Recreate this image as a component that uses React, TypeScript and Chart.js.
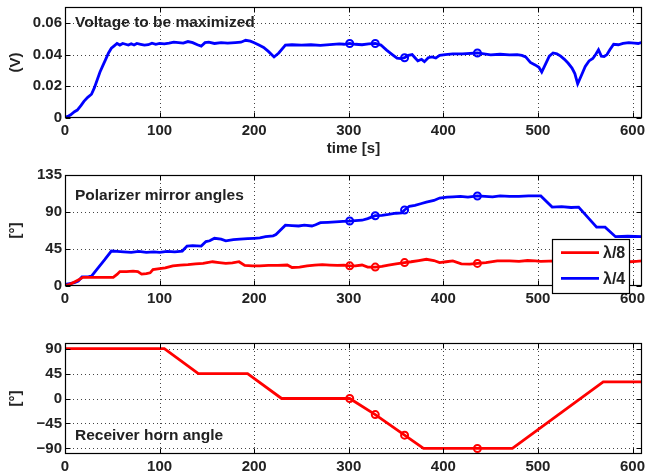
import React, { useEffect, useRef } from "react";
import { Chart, registerables } from "chart.js";
Chart.register(...registerables);

// ---------- DATA ----------
const xTickValues = [0, 100, 200, 300, 400, 500, 600];
const markerTimes = [301, 328, 359, 436];

const voltTime = [0,3,6,10,13,17,20,24,28,31,34,37,40,43,46,49,52,55,58,61,64,67,70,73,76,80,84,88,92,96,100,105,110,115,120,125,130,135,140,144,148,152,158,165,172,180,186,191,196,200,205,210,215,221,226,233,240,250,260,270,280,290,295,301,307,314,321,328,334,340,346,351,355,359,363,367,370,373,377,380,384,388,392,396,402,410,420,436,450,460,470,478,483,487,492,497,501,504,508,512,516,520,524,528,532,536,539,542,546,550,554,558,561,564,567,570,573,576,580,585,590,596,602,606,610];
const voltValue = [0.0005,0.001,0.002,0.004,0.005,0.008,0.0105,0.013,0.015,0.019,0.024,0.029,0.033,0.037,0.041,0.044,0.0455,0.047,0.046,0.047,0.0465,0.046,0.0468,0.046,0.047,0.0465,0.046,0.0462,0.0472,0.0465,0.047,0.0468,0.0472,0.0478,0.0475,0.0472,0.0482,0.0475,0.0462,0.0453,0.0475,0.0478,0.047,0.0475,0.0472,0.0475,0.0478,0.049,0.0485,0.0475,0.046,0.0445,0.042,0.0385,0.041,0.046,0.0462,0.046,0.0462,0.0458,0.0463,0.0468,0.0465,0.047,0.0465,0.0462,0.0468,0.047,0.046,0.0428,0.04,0.0377,0.0375,0.038,0.0395,0.04,0.038,0.036,0.037,0.0355,0.038,0.0385,0.0378,0.0395,0.04,0.0405,0.0405,0.041,0.0398,0.0402,0.0398,0.04,0.0395,0.0385,0.035,0.0335,0.032,0.029,0.034,0.039,0.041,0.0405,0.039,0.037,0.0345,0.0315,0.028,0.0215,0.027,0.0325,0.036,0.0375,0.04,0.043,0.039,0.0388,0.04,0.043,0.0465,0.0462,0.047,0.0475,0.0472,0.047,0.0478];
const voltMarkerValue = [0.047, 0.047, 0.038, 0.041];
const voltTicks = [0, 0.02, 0.04, 0.06];
const voltTickLabels = ["0", "0.02", "0.04", "0.06"];

const quarterTime = [0,5,10,14,18,25,28,35,42,49,55,62,70,78,86,94,100,108,116,124,129,135,144,149,153,158,165,170,178,185,193,200,206,212,220,223,233,240,247,253,261,265,270,278,286,294,301,307,314,320,328,335,342,350,356,359,364,370,376,382,390,396,404,410,418,426,436,444,452,460,470,480,490,503,515,525,535,543,562,571,582,595,610];
const quarterValue = [2,3,4,6,11,11.5,12,22,32,42.5,42,41.5,41,42,41,41.5,41,42,41.5,42.5,48.5,49,48.5,54,55,58,57,55,56.5,57,57.5,58,58.5,60,61,62.5,74,73.5,73,74,73,74.5,77,77.5,78,78.5,79,79.5,80,82,85.5,86,87,88.5,89,92.5,97,98,100,102,104,107,108,108.5,109,108,109.5,109,108.5,109.5,109,109,109.5,109.5,96,96.5,95.5,96,71.5,71.5,60,60.5,60];
const quarterMarkerValue = [79, 85.5, 92.5, 109.5];

const eighthTime = [0,5,10,15,19,30,40,51,55,58,65,72,77,81,86,90,93,100,106,114,122,130,138,146,156,163,170,177,184,190,198,206,215,225,235,240,248,256,264,272,280,288,295,301,307,314,320,328,335,342,350,359,366,374,382,390,396,403,410,419,428,436,445,457,470,480,489,497,503,520,540,560,580,597,604,610];
const eighthValue = [0.5,2,5,8,10.5,10.5,10.5,10.5,14,17.5,17.5,18,17.5,14.5,15,16,20,21,22,24.5,25.5,26,27,27.5,29.5,28.5,27.5,28,29.5,25,24.5,24.5,25,25,25.5,22.5,23,24.5,25.5,26,25.5,25,25.5,24.5,24.5,25.5,23,23,24,25.5,27,28.5,29.5,31,32.5,31,28.5,29.5,30.5,27,26.5,27.5,28.5,30.5,30.5,30,31,30.5,30,30.5,30,30,29.5,29.5,30,30.5];
const eighthMarkerValue = [24.5, 23, 28.5, 27.5];
const angleTicks = [0, 45, 90, 135];
const angleTickLabels = ["0", "45", "90", "135"];

const hornTime = [0,105,141,193,229,301,328,359,379,436,473,569,610];
const hornValue = [90,90,45,45,0,0,-29,-66,-90,-90,-90,30,30];
const hornMarkerValue = [0, -29, -66, -90];
const hornTicks = [-90, -45, 0, 45, 90];
const hornTickLabels = ["\u221290", "\u221245", "0", "45", "90"];

const BLUE = "#0000ff";
const RED = "#ff0000";
const FONT = "'Liberation Sans', Arial, Helvetica, sans-serif";
const TEXT = "#222222";

const pts = (t: number[], v: number[]) => t.map((x, i) => ({ x, y: v[i] }));

type Spec = {
  H: number;
  top: number;
  bottom: number;
  yMin: number;
  yMax: number;
  yTicks: number[];
  yLabels: string[];
  yTitle: string;
  xTitle?: string;
  title: string;
  titleY: number;
  legend?: { y1: number; y2: number; top: number; bottom: number };
  datasets: any[];
};

function lineDs(label: string, t: number[], v: number[], color: string) {
  return {
    label,
    data: pts(t, v),
    borderColor: color,
    backgroundColor: color,
    borderWidth: 2.8,
    pointRadius: 0,
    tension: 0,
    fill: false,
  };
}
function markDs(t: number[], v: number[], color: string) {
  return {
    label: "",
    data: pts(t, v),
    showLine: false,
    borderColor: color,
    backgroundColor: "rgba(0,0,0,0)",
    pointRadius: 3.5,
    pointBorderWidth: 2,
    pointBorderColor: color,
    pointBackgroundColor: "rgba(0,0,0,0)",
  };
}

function makeChart(canvas: HTMLCanvasElement, spec: Spec) {
  const tickFont = { family: FONT, size: 15, weight: "bold" as const };
  const plugin = {
    id: "frame",
    beforeDatasetsDraw(chart: any) {
      const { ctx, chartArea } = chart;
      const { left, right, top, bottom } = chartArea;
      const x = chart.scales.x;
      const y = chart.scales.y;
      ctx.save();
      ctx.strokeStyle = "#444";
      ctx.lineWidth = 1;
      ctx.setLineDash([1, 3]);
      xTickValues.forEach((v) => {
        const px = Math.round(x.getPixelForValue(v)) + 0.5;
        if (px - left < 2 || right - px < 2) return;
        ctx.beginPath();
        ctx.moveTo(px, top);
        ctx.lineTo(px, bottom);
        ctx.stroke();
      });
      spec.yTicks.forEach((v) => {
        const py = Math.round(y.getPixelForValue(v)) + 0.5;
        if (py - top < 2 || bottom - py < 2) return;
        ctx.beginPath();
        ctx.moveTo(left, py);
        ctx.lineTo(right, py);
        ctx.stroke();
      });
      ctx.restore();
    },
    afterDatasetsDraw(chart: any) {
      const { ctx, chartArea } = chart;
      const { left, right, top, bottom } = chartArea;
      const x = chart.scales.x;
      const y = chart.scales.y;
      ctx.save();
      ctx.strokeStyle = "#000";
      ctx.lineWidth = 1.2;
      ctx.setLineDash([]);
      const L = Math.round(left) + 0.5;
      const R = Math.round(right) - 0.5;
      const T = Math.round(top) + 0.5;
      const B = Math.round(bottom) - 0.5;
      ctx.strokeRect(L, T, R - L, B - T);
      const tl = 5;
      ctx.lineWidth = 1;
      ctx.beginPath();
      xTickValues.forEach((v) => {
        const px = Math.round(x.getPixelForValue(v)) + 0.5;
        ctx.moveTo(px, B);
        ctx.lineTo(px, B - tl);
        ctx.moveTo(px, T);
        ctx.lineTo(px, T + tl);
      });
      spec.yTicks.forEach((v) => {
        const py = Math.round(y.getPixelForValue(v)) + 0.5;
        ctx.moveTo(L, py);
        ctx.lineTo(L + tl, py);
        ctx.moveTo(R, py);
        ctx.lineTo(R - tl, py);
      });
      ctx.stroke();
      // title inside axes
      ctx.fillStyle = TEXT;
      ctx.font = `bold 15.5px ${FONT}`;
      ctx.textAlign = "left";
      ctx.textBaseline = "alphabetic";
      ctx.fillText(spec.title, 75, spec.titleY);
      // legend
      if (spec.legend) {
        const lg = spec.legend;
        ctx.fillStyle = "#fff";
        ctx.fillRect(552.5, lg.top + 0.5, 77, lg.bottom - lg.top);
        ctx.strokeStyle = "#000";
        ctx.lineWidth = 1.2;
        ctx.strokeRect(552.5, lg.top + 0.5, 77, lg.bottom - lg.top);
        ctx.lineWidth = 2.8;
        ctx.strokeStyle = RED;
        ctx.beginPath();
        ctx.moveTo(561, lg.y1);
        ctx.lineTo(599, lg.y1);
        ctx.stroke();
        ctx.strokeStyle = BLUE;
        ctx.beginPath();
        ctx.moveTo(561, lg.y2);
        ctx.lineTo(599, lg.y2);
        ctx.stroke();
        ctx.fillStyle = TEXT;
        ctx.font = `bold 16px ${FONT}`;
        ctx.textBaseline = "middle";
        ctx.fillText("\u03bb/8", 603, lg.y1 + 1);
        ctx.fillText("\u03bb/4", 603, lg.y2 + 1);
      }
      ctx.restore();
    },
  };

  return new Chart(canvas, {
    type: "line",
    data: { datasets: spec.datasets },
    plugins: [plugin],
    options: {
      responsive: false,
      animation: false,
      devicePixelRatio: 1,
      layout: { padding: { top: spec.top, right: 3, left: 0, bottom: 0 } },
      plugins: { legend: { display: false }, tooltip: { enabled: false } },
      scales: {
        x: {
          type: "linear",
          min: 0,
          max: 610,
          afterBuildTicks: (s: any) => {
            s.ticks = xTickValues.map((v) => ({ value: v }));
          },
          afterFit: (s: any) => {
            s.height = spec.H - spec.bottom;
            s.paddingLeft = 0;
            s.paddingRight = 0;
          },
          ticks: {
            font: tickFont,
            color: TEXT,
            padding: 4,
            maxRotation: 0,
            autoSkip: false,
            callback: (v: any) => String(v),
          },
          grid: { display: false, drawTicks: false },
          border: { display: false },
          title: spec.xTitle
            ? {
                display: true,
                text: spec.xTitle,
                font: tickFont,
                color: TEXT,
                padding: { top: 0, bottom: 2 },
              }
            : { display: false },
        },
        y: {
          type: "linear",
          min: spec.yMin,
          max: spec.yMax,
          afterBuildTicks: (s: any) => {
            s.ticks = spec.yTicks.map((v) => ({ value: v }));
          },
          afterFit: (s: any) => {
            s.width = 65;
            s.paddingTop = 0;
            s.paddingBottom = 0;
          },
          ticks: {
            font: tickFont,
            color: TEXT,
            padding: 3,
            autoSkip: false,
            callback: (v: any) => {
              const i = spec.yTicks.findIndex((t) => Math.abs(t - v) < 1e-9);
              return i >= 0 ? spec.yLabels[i] : "";
            },
          },
          grid: { display: false, drawTicks: false },
          border: { display: false },
          title: {
            display: true,
            text: spec.yTitle,
            font: tickFont,
            color: TEXT,
            padding: { top: 7, bottom: 0 },
          },
        },
      },
    },
  } as any);
}

export default function App() {
  const r1 = useRef<HTMLCanvasElement>(null);
  const r2 = useRef<HTMLCanvasElement>(null);
  const r3 = useRef<HTMLCanvasElement>(null);

  useEffect(() => {
    const c1 = makeChart(r1.current!, {
      H: 160,
      top: 7,
      bottom: 118,
      yMin: 0,
      yMax: 0.07,
      yTicks: voltTicks,
      yLabels: voltTickLabels,
      yTitle: "(V)",
      xTitle: "time [s]",
      title: "Voltage to be maximized",
      titleY: 27,
      datasets: [
        lineDs("Voltage", voltTime, voltValue, BLUE),
        markDs(markerTimes, voltMarkerValue, BLUE),
      ],
    });
    const c2 = makeChart(r2.current!, {
      H: 150,
      top: 15,
      bottom: 126,
      yMin: 0,
      yMax: 135,
      yTicks: angleTicks,
      yLabels: angleTickLabels,
      yTitle: "[\u00b0]",
      title: "Polarizer mirror angles",
      titleY: 40,
      legend: { top: 79, bottom: 133, y1: 92.7, y2: 118.3 },
      datasets: [
        lineDs("\u03bb/8", eighthTime, eighthValue, RED),
        lineDs("\u03bb/4", quarterTime, quarterValue, BLUE),
        markDs(markerTimes, eighthMarkerValue, RED),
        markDs(markerTimes, quarterMarkerValue, BLUE),
      ],
    });
    const c3 = makeChart(r3.current!, {
      H: 156,
      top: 23,
      bottom: 134,
      yMin: -100,
      yMax: 100,
      yTicks: hornTicks,
      yLabels: hornTickLabels,
      yTitle: "[\u00b0]",
      title: "Receiver horn angle",
      titleY: 120,
      datasets: [
        lineDs("Horn", hornTime, hornValue, RED),
        markDs(markerTimes, hornMarkerValue, RED),
      ],
    });
    return () => {
      c1.destroy();
      c2.destroy();
      c3.destroy();
    };
  }, []);

  const cs = (top: number, h: number): React.CSSProperties => ({
    position: "absolute",
    left: 0,
    top,
    width: 648,
    height: h,
  });

  return (
    <div
      style={{
        position: "fixed",
        left: 0,
        top: 0,
        width: 648,
        height: 476,
        background: "#fff",
        overflow: "hidden",
      }}
    >
      <canvas ref={r1} width={648} height={160} style={cs(0, 160)} />
      <canvas ref={r2} width={648} height={150} style={cs(160, 150)} />
      <canvas ref={r3} width={648} height={156} style={cs(320, 156)} />
    </div>
  );
}
